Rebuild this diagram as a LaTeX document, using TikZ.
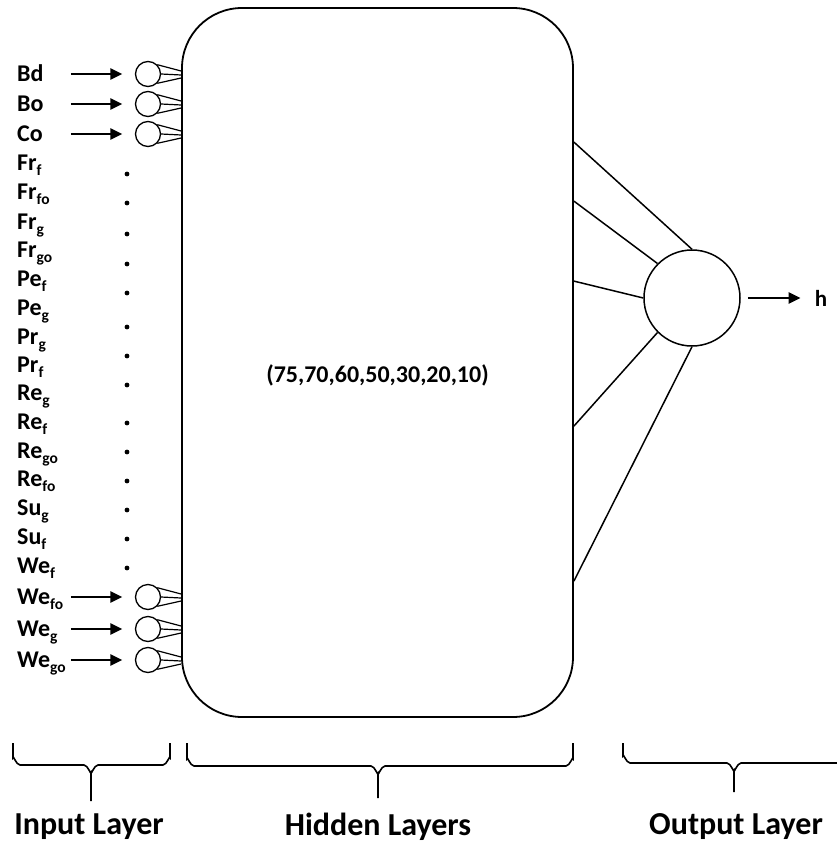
\documentclass[tikz,border=0pt]{standalone}
\usepackage{fontspec}
\setmainfont{Carlito}
\usetikzlibrary{positioning,arrows.meta,calc}
\newcommand{\lsub}[1]{\raisebox{-4.5pt}{\fontsize{15.5pt}{15.5pt}\selectfont #1}}

\begin{document}
\begin{tikzpicture}[x=1pt,y=-1pt,font=\bfseries,
  inode/.style={circle,draw,line width=1.3pt,minimum size=25pt,inner sep=0pt},
  onode/.style={circle,draw,line width=1.5pt,minimum size=96pt,inner sep=0pt},
  hidbox/.style={rectangle,draw,line width=1.8pt,rounded corners=60pt,minimum width=391pt,minimum height=709pt,inner sep=0pt},
  arr/.style={line width=2.4pt,-{Triangle[length=12pt,width=11pt]}},
  fan/.style={line width=1.2pt},
  wire/.style={line width=1.5pt},
  brace/.style={line width=1.6pt},
  inlab/.style={anchor=base west,inner sep=0pt,font=\fontsize{24pt}{24pt}\selectfont\bfseries},
  layerlab/.style={inner sep=0pt,font=\fontsize{32pt}{32pt}\selectfont\bfseries}]
\useasboundingbox (0,0) rectangle (837,844);

% hidden layers
\node[hidbox] (hid) at (377.5,362.5) {};
\node[font=\fontsize{24pt}{24pt}\selectfont\bfseries] (sizes) at ([yshift=-13pt]hid.center) {(75,70,60,50,30,20,10)};

% input labels
\foreach \lab/\yy [count=\i] in {Bd/74, Bo/104, Co/134, Fr\lsub{f}/163, Fr\lsub{fo}/192,
    Fr\lsub{g}/222, Fr\lsub{go}/250, Pe\lsub{f}/279, Pe\lsub{g}/308, Pr\lsub{g}/337,
    Pr\lsub{f}/365, Re\lsub{g}/393, Re\lsub{f}/422, Re\lsub{go}/451, Re\lsub{fo}/479,
    Su\lsub{g}/508, Su\lsub{f}/537, We\lsub{f}/566, We\lsub{fo}/597, We\lsub{g}/629,
    We\lsub{go}/660}
  \node[inlab] (lab\i) at (17,{\yy+7.5}) {\lab};

% input neurons
\foreach \yy [count=\i] in {74,104,134,597,629,660} {
  \node[inode] (in\i) at (148,\yy) {};
  \draw[arr] ([xshift=-64pt]in\i.west) -- ([xshift=-12.5pt]in\i.west);
  \draw[fan] (in\i.45) -- ($(hid.west |- in\i)+(0,-3)$);
  \draw[fan] (in\i.0) -- ($(hid.west |- in\i)+(0,1)$);
  \draw[fan] (in\i.-45) -- ($(hid.west |- in\i)+(0,4)$);
}
\foreach \yy in {174,203,234,264,293,327,356,385,423,452,481,510,539,568}
  \fill (127,\yy) circle (2.4pt);

% output neuron
\node[onode] (out) at (692,298) {};
\foreach \dy/\ang in {135/90,194/135,274/180,419/225,574/270}
  \draw[wire] ($(hid.north east)+(0,\dy)$) -- (out.\ang);
\node[inner sep=0pt,font=\fontsize{23pt}{23pt}\selectfont\bfseries] (h) at (821,298) {h};
\draw[arr] ([xshift=7pt]out.east) -- ([xshift=-14pt]h.west);

% braces
\draw[brace] (13,743) -- (13,758) to[out=90,in=180] (20,765) -- (84,765) to[out=0,in=-90] (91,772) -- (91,801)
  (91,772) to[out=-90,in=180] (98,765) -- (163,765) to[out=0,in=90] (170,758) -- (170,743);
\draw[brace] (187,743) -- (187,759) to[out=90,in=180] (194,766) -- (371,766) to[out=0,in=-90] (378,773) -- (378,798)
  (378,773) to[out=-90,in=180] (385,766) -- (566,766) to[out=0,in=90] (573,759) -- (573,743);
\draw[brace] (623,743) -- (623,756) to[out=90,in=180] (630,763) -- (727,763) to[out=0,in=-90] (734,770) -- (734,792)
  (734,770) to[out=-90,in=180] (741,763) -- (840,763);

\node[layerlab] (inl) at (89,827) {Input Layer};
\node[layerlab] (hidl) at (378,827) {Hidden Layers};
\node[layerlab] (outl) at (736,827) {Output Layer};
\end{tikzpicture}
\end{document}
